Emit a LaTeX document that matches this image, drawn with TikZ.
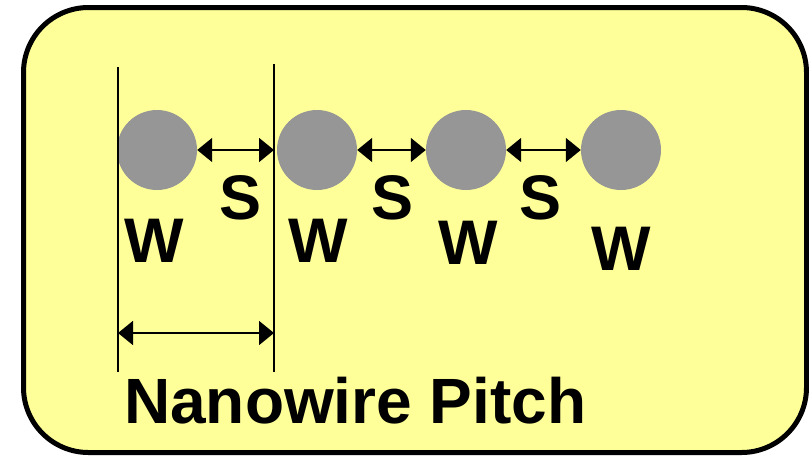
\documentclass[tikz,border=0pt]{standalone}
\usepackage{fontspec}
\setmainfont{Liberation Sans}
\usetikzlibrary{arrows.meta}
\definecolor{panel}{HTML}{FFFF99}
\definecolor{wire}{HTML}{969696}
\begin{document}
\begin{tikzpicture}[x=1pt,y=-1pt,
  wirecirc/.style={circle,fill=wire,draw=none,minimum size=80pt,inner sep=0pt},
  guide/.style={line width=1.6pt},
  dim/.style={line width=1.6pt,{Triangle[length=15pt,width=24pt]}-{Triangle[length=15pt,width=24pt]}},
  lbl/.style={font=\bfseries\fontsize{63}{63}\selectfont,inner sep=0pt,anchor=base}]
\useasboundingbox (0,0) rectangle (809,456);
% panel
\draw[line width=5pt,fill=panel,rounded corners=65pt] (23.5,7.5) rectangle (806.5,452.5);
% nanowires
\node[wirecirc] (c1) at (157,150) {};
\node[wirecirc] (c2) at (317,150) {};
\node[wirecirc] (c3) at (466,150) {};
\node[wirecirc] (c4) at (621,150) {};
% pitch guide lines
\coordinate (g1top) at (118,67);
\coordinate (g1bot) at (118,372);
\coordinate (g2top) at (274,64);
\coordinate (g2bot) at (274,372);
\coordinate (g2mid) at (274,150);
\coordinate (p1) at (118,333);
\coordinate (p2) at (274,333);
\draw[guide] (g1top) -- (g1bot);
\draw[guide] (g2top) -- (g2bot);
% spacing arrows
\draw[dim] (c1.east) -- (g2mid);
\draw[dim] (c2.east) -- (c3.west);
\draw[dim] (c3.east) -- (c4.west);
\draw[dim] (p1) -- (p2);
% labels
\node[lbl] (s1) at (241,219) {S};
\node[lbl] (s2) at (393,219) {S};
\node[lbl] (s3) at (541,219) {S};
\node[lbl] (w1) at (154.5,262) {W};
\node[lbl] (w2) at (318.5,262) {W};
\node[lbl] (w3) at (468,264) {W};
\node[lbl] (w4) at (621,270) {W};
\node[lbl,anchor=base west,font=\bfseries\fontsize{64}{64}\selectfont] (title) at (124,423) {Nanowire Pitch};
\end{tikzpicture}
\end{document}
